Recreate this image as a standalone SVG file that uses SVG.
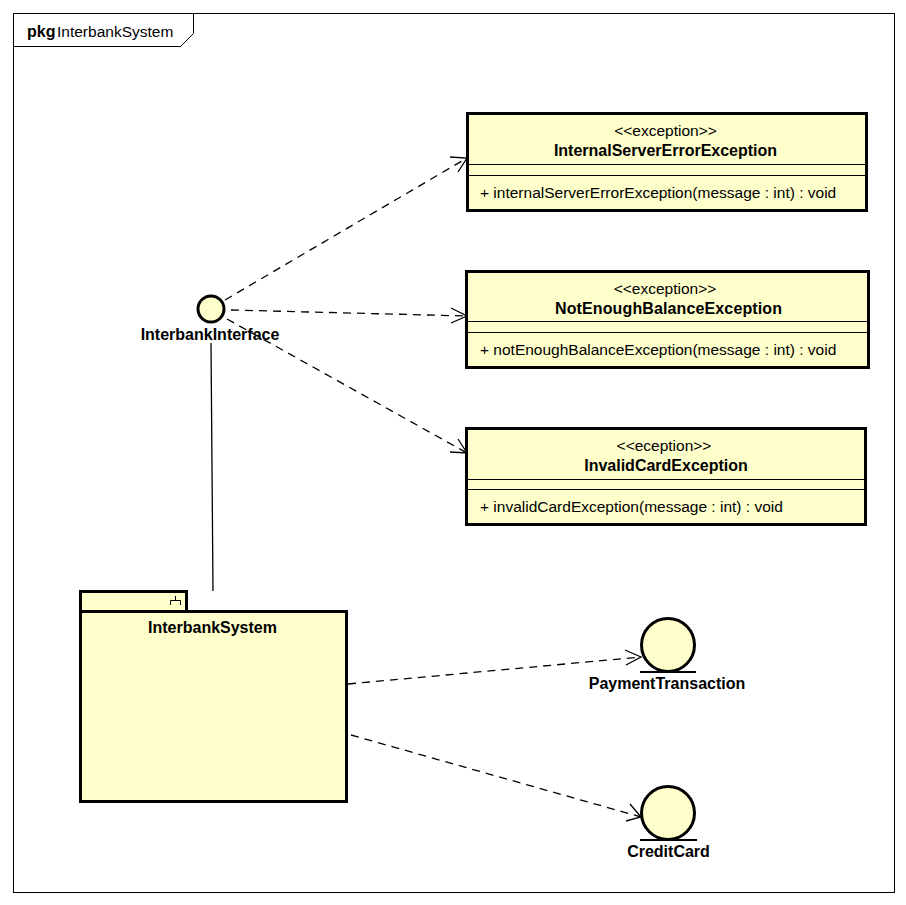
<svg xmlns="http://www.w3.org/2000/svg" width="906" height="905" viewBox="0 0 906 905">
<style>
text{font-family:"Liberation Sans",Arial,sans-serif;font-size:15.5px;fill:#000}
.b{font-weight:bold;font-size:16px}
.m{text-anchor:middle}
.box{fill:#ffffcc;stroke:#000;stroke-width:3}
.thin{fill:none;stroke:#000;stroke-width:1}
.line{fill:none;stroke:#000;stroke-width:1.3}
.dash{fill:none;stroke:#000;stroke-width:1.3;stroke-dasharray:8 6}
.head{fill:none;stroke:#000;stroke-width:1.3}
</style>
<rect width="906" height="905" fill="#fff"/>
<g id="frame">
<rect x="13.500" y="13.500" width="881" height="879" fill="#fff" stroke="#000"/>
<path class="thin" d="M13.500 46.500H180.500L193.500 33.500V13.500"/>
<text x="27" y="37" class="b">pkg</text><text x="57" y="37">InterbankSystem</text>
</g>
<g id="connectors">
<path class="dash" d="M225 300L467 158"/>
<path class="head" d="M450 157L467 158L458 172"/>
<path class="dash" d="M231 310L467 316"/>
<path class="head" d="M451 308L467 316L451 323"/>
<path class="dash" d="M227 319L467 453"/>
<path class="head" d="M458 439L467 453L450 452"/>
<path class="line" d="M211 343L213 591"/>
<path class="dash" d="M348 684L641 657"/>
<path class="head" d="M625 650L641 657L626 665"/>
<path class="dash" d="M351 735L641 817"/>
<path class="head" d="M630 804L641 817L626 821"/>
</g>
<g id="InternalServerErrorException">
<rect class="box" x="467.500" y="113.500" width="399" height="97"/>
<path class="thin" d="M467 164.500H867M467 175.500H867"/>
<text x="665.500" y="135.500" class="m">&lt;&lt;exception&gt;&gt;</text>
<text x="665.500" y="156" class="m b">InternalServerErrorException</text>
<text x="480" y="197.500">+ internalServerErrorException(message : int) : void</text>
</g>
<g id="NotEnoughBalanceException">
<rect class="box" x="466.500" y="271.500" width="402" height="96"/>
<path class="thin" d="M466 321.500H869M466 332.500H869"/>
<text x="665" y="293.500" class="m">&lt;&lt;exception&gt;&gt;</text>
<text x="668.500" y="314" class="m b" textLength="227" lengthAdjust="spacing">NotEnoughBalanceException</text>
<text x="480" y="354.500">+ notEnoughBalanceException(message : int) : void</text>
</g>
<g id="InvalidCardException">
<rect class="box" x="466.500" y="428.500" width="399" height="96"/>
<path class="thin" d="M466 479.500H866M466 489.500H866"/>
<text x="664" y="450.500" class="m">&lt;&lt;eception&gt;&gt;</text>
<text x="666" y="471" class="m b">InvalidCardException</text>
<text x="480" y="511.500">+ invalidCardException(message : int) : void</text>
</g>
<g id="InterbankInterface">
<circle class="box" cx="211" cy="309" r="13"/>
<text x="210" y="340" class="m b">InterbankInterface</text>
</g>
<g id="InterbankSystem">
<rect class="box" x="80.500" y="591.500" width="106" height="20"/>
<rect class="box" x="80.500" y="611.500" width="266" height="190"/>
<path class="thin" d="M175.500 596V600.500M170.500 605V600.500H180.500V605"/>
<text x="212.500" y="633" class="m b">InterbankSystem</text>
</g>
<g id="PaymentTransaction">
<circle cx="668" cy="645" r="26.500" fill="#ffffcc" stroke="#000" stroke-width="3"/>
<path d="M640 672H696" stroke="#000" stroke-width="2"/>
<text x="667" y="689" class="m b">PaymentTransaction</text>
</g>
<g id="CreditCard">
<circle cx="668" cy="813" r="26.500" fill="#ffffcc" stroke="#000" stroke-width="3"/>
<path d="M640 840H697" stroke="#000" stroke-width="2"/>
<text x="668.500" y="857" class="m b">CreditCard</text>
</g>
</svg>
